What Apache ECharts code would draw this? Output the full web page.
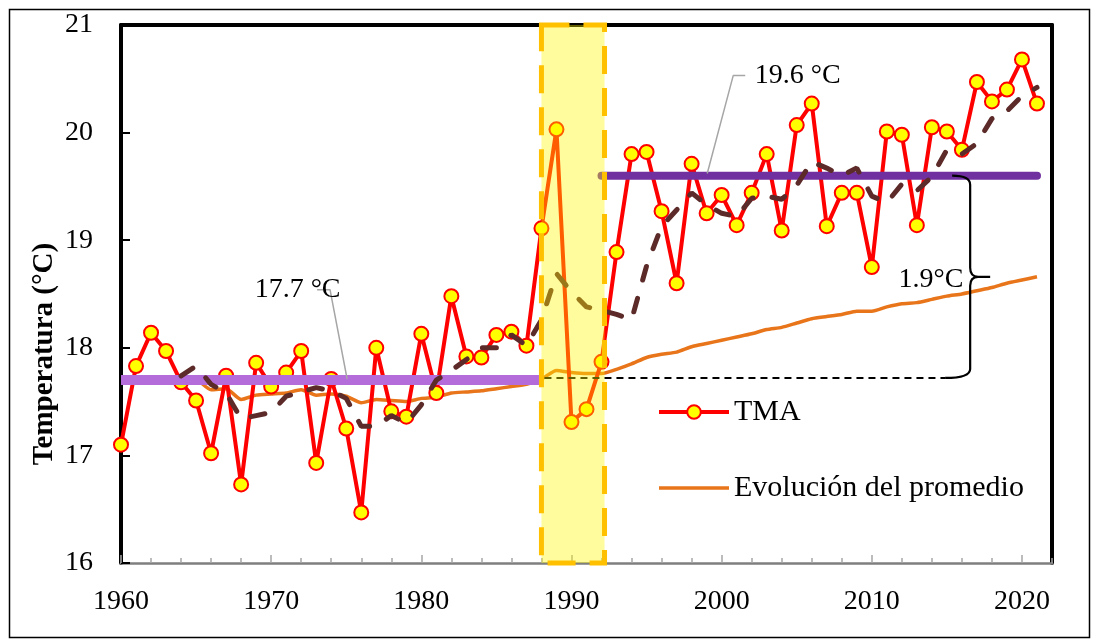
<!DOCTYPE html>
<html><head><meta charset="utf-8">
<script src="https://cdn.jsdelivr.net/npm/echarts@6/dist/echarts.min.js"></script>
<style>html,body{margin:0;padding:0;background:#fff}#c{width:1094px;height:639px}</style>
</head><body><div id="c"></div>
<script>
// ---- data ----
const years = [1960,1961,1962,1963,1964,1965,1966,1967,1968,1969,
  1970,1971,1972,1973,1974,1975,1976,1977,1978,1979,
  1980,1981,1982,1983,1984,1985,1986,1987,1988,1989,
  1990,1991,1992,1993,1994,1995,1996,1997,1998,1999,
  2000,2001,2002,2003,2004,2005,2006,2007,2008,2009,
  2010,2011,2012,2013,2014,2015,2016,2017,2018,2019,
  2020,2021];
const tma = [17.10,17.83,18.14,17.97,17.68,17.51,17.02,17.74,16.73,17.86,
  17.64,17.77,17.97,16.93,17.71,17.25,16.47,18.00,17.41,17.36,
  18.13,17.58,18.48,17.92,17.91,18.12,18.15,18.02,19.11,20.03,
  17.31,17.43,17.87,18.89,19.80,19.82,19.27,18.60,19.71,19.25,
  19.42,19.14,19.44,19.80,19.09,20.07,20.27,19.13,19.44,19.44,
  18.75,20.01,19.98,19.14,20.05,20.01,19.84,20.47,20.29,20.40,
  20.68,20.27];
// values from 1964 on
const avgYears = years.slice(4);
const promedio = [17.74,17.71,17.61,17.62,17.52,17.56,17.57,17.58,17.61,17.56,
  17.57,17.55,17.49,17.52,17.51,17.50,17.53,17.54,17.58,17.59,
  17.60,17.62,17.64,17.66,17.71,17.79,17.77,17.76,17.76,17.80,
  17.85,17.91,17.94,17.96,18.01,18.04,18.07,18.10,18.13,18.17,
  18.19,18.23,18.27,18.29,18.31,18.34,18.34,18.38,18.41,18.42,
  18.45,18.48,18.50,18.53,18.56,18.60,18.63,18.66];
const mediaMovil = [17.74,17.83,17.66,17.58,17.34,17.37,17.40,17.55,17.59,17.63,
  17.60,17.53,17.27,17.27,17.37,17.30,17.47,17.70,17.79,17.89,
  18.00,18.00,18.12,18.02,18.26,18.69,18.52,18.38,18.35,18.31,
  18.26,18.76,19.13,19.28,19.44,19.33,19.25,19.22,19.39,19.41,
  19.38,19.51,19.73,19.67,19.60,19.67,19.41,19.35,19.52,19.46,
  19.59,19.84,19.80,19.90,20.13,20.20,20.34,20.42];
const media1 = {from: 1960, to: 1988, value: 17.7};
const media2 = {from: 1992, to: 2021, value: 19.6};
const band = [1988, 1992.2];
const refLine = {from: 1988.2, to: 2014.9, value: 17.72};
const braceYear = 2016.55;
const yTicks = [16, 17, 18, 19, 20, 21];
const xTicks = [1960, 1970, 1980, 1990, 2000, 2010, 2020];

// ---- chart ----
const FONT = '"Liberation Serif", "Times New Roman", serif';
const chart = echarts.init(document.getElementById('c'), null, {renderer: 'canvas'});
const yMin = yTicks[0], yMax = yTicks[yTicks.length - 1];
const xMin = xTicks[0], xMax = 2022;

const notes = [
  {text: '17.7 °C', at: [1968.9, 18.54], align: 'left'},
  {text: '19.6 °C', at: [2002.2, 20.53], align: 'left'},
  {text: '1.9°C', at: [2016.1, 18.63], align: 'right'}
];

const option = {
  animation: false,
  backgroundColor: '#fff',
  grid: {left: 121, right: 42, top: 25, bottom: 76},
  xAxis: [
    {type: 'value', min: xMin, max: xMax, interval: 10,
     axisLine: {show: true, lineStyle: {color: '#7f7f7f', width: 2.5}},
     axisTick: {show: true, inside: true, length: 8, lineStyle: {color: '#a6a6a6', width: 1.5}},
     axisLabel: {show: true, showMaxLabel: false, margin: 25, fontFamily: FONT, fontSize: 28, color: '#000',
                 formatter: function (v) { return String(v); }},
     splitLine: {show: false}},
    {type: 'value', min: xMin, max: xMax, position: 'top',
     axisLine: {show: true, onZero: false, lineStyle: {color: '#000', width: 4}},
     axisTick: {show: false}, axisLabel: {show: false}, splitLine: {show: false}},
    {type: 'value', min: xMin, max: xMax, interval: 2, position: 'bottom',
     axisLine: {show: false}, axisLabel: {show: false}, splitLine: {show: false},
     axisTick: {show: true, inside: true, length: 5, lineStyle: {color: '#a6a6a6', width: 1.5}}}
  ],
  yAxis: [
    {type: 'value', min: yMin, max: yMax, interval: 1,
     axisLine: {show: true, onZero: false, lineStyle: {color: '#000', width: 4}},
     axisTick: {show: true, inside: true, length: 9, lineStyle: {color: '#000', width: 2}},
     axisLabel: {margin: 28, fontFamily: FONT, fontSize: 28, color: '#000'},
     splitLine: {show: false}},
    {type: 'value', min: yMin, max: yMax, position: 'right',
     axisLine: {show: true, onZero: false, lineStyle: {color: '#000', width: 4}},
     axisTick: {show: false}, axisLabel: {show: false}, splitLine: {show: false}}
  ],
  legend: {
    data: ['TMA', {name: 'Evolución del promedio', itemStyle: {opacity: 0}}],
    orient: 'vertical', left: 652, top: 392,
    itemWidth: 70, itemHeight: 17, itemGap: 46,
    selectedMode: false,
    lineStyle: {width: 'inherit'},
    textStyle: {fontFamily: FONT, fontSize: 30, color: '#000', lineHeight: 30}
  },
  graphic: [
    {type: 'rect', left: 7, top: 7, shape: {width: 1080, height: 628},
     style: {fill: 'none', stroke: '#000', lineWidth: 1.5}, silent: true},
    {type: 'text', x: 45, y: 354, rotation: Math.PI / 2,
     style: {text: 'Temperatura (°C)', fontFamily: FONT, fontSize: 29, fontWeight: 'bold',
             fill: '#000', align: 'center', verticalAlign: 'middle'}}
  ],
  series: [
    {name: 'Evolución del promedio', type: 'line', z: 2,
     data: avgYears.map((y, i) => [y, promedio[i]]),
     showSymbol: false, symbol: 'none', smooth: 0.2,
     lineStyle: {color: '#E8751A', width: 3.5}, itemStyle: {color: '#E8751A'}},
    {name: 'TMA', type: 'line', z: 3,
     data: years.map((y, i) => [y, tma[i]]),
     symbol: 'circle', symbolSize: 14,
     lineStyle: {color: '#FF0000', width: 4},
     itemStyle: {color: '#FFFF00', borderColor: '#FF0000', borderWidth: 2}},
    {name: 'media1', type: 'line', z: 4, symbol: 'none',
     data: [[media1.from, media1.value], [media1.to, media1.value]],
     lineStyle: {color: '#B46CDB', width: 10}},
    {name: 'media2', type: 'line', z: 4, symbol: 'none',
     data: [[media2.from, media2.value], [media2.to, media2.value]],
     lineStyle: {color: '#7030A0', width: 8, cap: 'round'}},
    {name: 'media móvil', type: 'line', z: 5, symbol: 'none',
     data: avgYears.map((y, i) => [y, mediaMovil[i]]),
     lineStyle: {color: '#5C2B29', width: 5, type: [14, 19], cap: 'round'}},
    {name: 'ref', type: 'line', z: 5, symbol: 'none',
     data: [[refLine.from, refLine.value], [refLine.to, refLine.value]],
     lineStyle: {color: '#000', width: 2, type: [7, 5]}},
    {name: 'leader1', type: 'line', z: 6, symbol: 'none',
     data: [[1973.06, 18.54], [1973.92, 18.54], [1975.06, 17.71]],
     lineStyle: {color: '#A6A6A6', width: 1.5}},
    {name: 'leader2', type: 'line', z: 6, symbol: 'none',
     data: [[2001.57, 20.53], [2000.77, 20.53], [1999.04, 19.62]],
     lineStyle: {color: '#A6A6A6', width: 1.5}},
    {name: 'brace', type: 'custom', z: 6, silent: true,
     data: [[braceYear, media2.value, refLine.value]],
     renderItem: function (params, api) {
       const top = api.coord([api.value(0), api.value(1)]);
       const bot = api.coord([api.value(0), api.value(2)]);
       const x = top[0], yt = top[1], yb = bot[1], ym = (yt + yb) / 2, r = 9;
       const d = 'M' + (x - 18) + ',' + yt + ' Q' + x + ',' + yt + ' ' + x + ',' + (yt + r) +
         ' L' + x + ',' + (ym - r) + ' Q' + x + ',' + ym + ' ' + (x + 8) + ',' + ym +
         ' Q' + x + ',' + ym + ' ' + x + ',' + (ym + r) +
         ' L' + x + ',' + (yb - r) + ' Q' + x + ',' + yb + ' ' + (x - 25) + ',' + yb +
         ' M' + (x + 6) + ',' + ym + ' L' + (x + 20) + ',' + ym;
       return {type: 'path', shape: {pathData: d},
               style: {fill: null, stroke: '#000', lineWidth: 2.2}};
     }},
    {name: 'banda', type: 'custom', z: 10, silent: true,
     data: [[band[0], band[1]]],
     renderItem: function (params, api) {
       const p0 = api.coord([api.value(0), yMax]);
       const p1 = api.coord([api.value(1), yMin]);
       return {type: 'rect',
               shape: {x: p0[0], y: p0[1], width: p1[0] - p0[0], height: p1[1] - p0[1]},
               style: {fill: 'rgba(255,248,0,0.38)', stroke: '#FFC000', lineWidth: 5, lineDash: [28, 14]}};
     }},
    {name: 'notas', type: 'custom', z: 12, silent: true,
     data: notes.map(n => n.at),
     renderItem: function (params, api) {
       const p = api.coord([api.value(0), api.value(1)]);
       const n = notes[params.dataIndex];
       return {type: 'text', x: p[0], y: p[1],
               style: {text: n.text, fontFamily: FONT, fontSize: 28, fill: '#000',
                       align: n.align, verticalAlign: 'middle'}};
     }}
  ]
};
chart.setOption(option);
</script>
</body></html>
